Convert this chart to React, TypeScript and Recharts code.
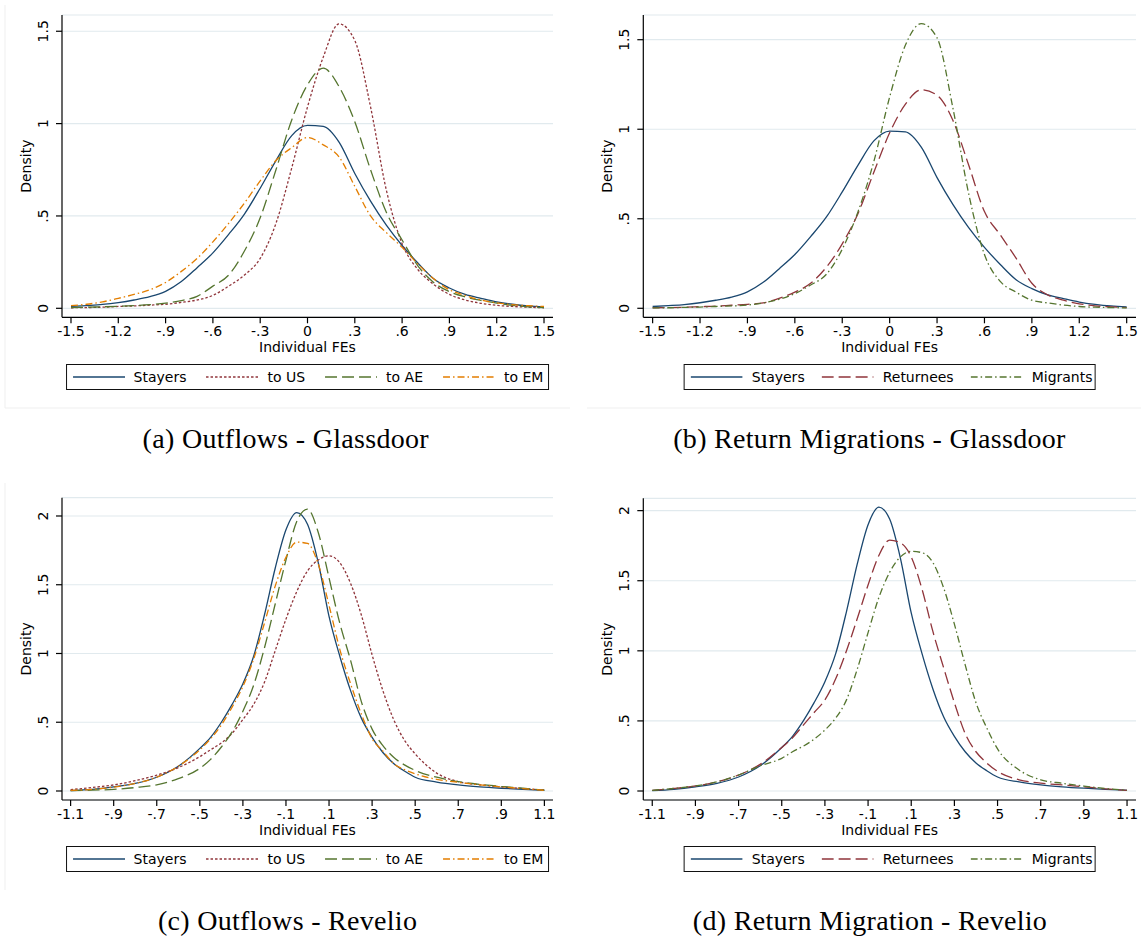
import React from 'react';
import { LineChart, Line, XAxis, YAxis, CartesianGrid } from 'recharts';

// ---------- data ----------
const X_GD = [-1.5,-1.4,-1.3,-1.2,-1.1,-1.0,-0.9,-0.8,-0.7,-0.6,-0.5,-0.4,-0.3,-0.2,-0.1,0,0.1,0.2,0.3,0.4,0.5,0.6,0.7,0.8,0.9,1.0,1.1,1.2,1.3,1.4,1.5];
const STAYERS_GD = [0.01,0.015,0.021,0.031,0.045,0.063,0.092,0.145,0.22,0.30,0.40,0.51,0.65,0.80,0.935,0.99,0.985,0.90,0.73,0.58,0.45,0.34,0.245,0.16,0.11,0.075,0.054,0.035,0.022,0.013,0.008];
const US_GD = [0.003,0.004,0.006,0.01,0.013,0.017,0.022,0.032,0.045,0.07,0.12,0.18,0.27,0.46,0.76,1.09,1.36,1.54,1.45,1.09,0.64,0.35,0.21,0.13,0.075,0.045,0.027,0.016,0.01,0.006,0.003];
const AE_GD = [0.004,0.006,0.008,0.011,0.015,0.02,0.028,0.042,0.065,0.12,0.18,0.31,0.49,0.75,1.02,1.21,1.30,1.20,1.01,0.75,0.52,0.37,0.23,0.14,0.09,0.062,0.043,0.028,0.016,0.008,0.004];
const EM_GD = [0.015,0.022,0.035,0.054,0.075,0.10,0.14,0.20,0.27,0.36,0.46,0.57,0.69,0.80,0.87,0.925,0.885,0.82,0.66,0.50,0.41,0.33,0.24,0.16,0.10,0.07,0.045,0.03,0.02,0.014,0.01];
const RET_GD = [0.003,0.004,0.006,0.009,0.012,0.017,0.022,0.03,0.055,0.09,0.14,0.23,0.36,0.53,0.76,0.98,1.14,1.22,1.19,1.05,0.80,0.54,0.41,0.28,0.14,0.075,0.045,0.025,0.014,0.008,0.004];
const MIG_GD = [0.002,0.003,0.005,0.007,0.01,0.013,0.018,0.03,0.05,0.082,0.13,0.19,0.33,0.54,0.82,1.18,1.47,1.59,1.51,1.12,0.64,0.30,0.15,0.09,0.045,0.03,0.018,0.01,0.006,0.004,0.002];

const X_RV = [-1.1,-1.0,-0.9,-0.8,-0.7,-0.6,-0.5,-0.45,-0.4,-0.35,-0.3,-0.25,-0.2,-0.15,-0.1,-0.05,0,0.05,0.1,0.15,0.2,0.25,0.3,0.35,0.4,0.45,0.5,0.6,0.7,0.8,0.9,1.0,1.1];
const STAYERS_RV = [0.003,0.012,0.03,0.055,0.10,0.18,0.31,0.39,0.50,0.63,0.78,0.98,1.28,1.62,1.90,2.025,1.94,1.66,1.27,0.98,0.73,0.53,0.39,0.28,0.20,0.145,0.10,0.065,0.044,0.03,0.02,0.012,0.005];
const US_RV = [0.01,0.025,0.044,0.075,0.115,0.17,0.25,0.30,0.35,0.42,0.52,0.63,0.79,1.02,1.25,1.45,1.60,1.68,1.71,1.66,1.51,1.28,0.99,0.73,0.52,0.37,0.27,0.13,0.068,0.045,0.03,0.018,0.007];
const AE_RV = [0.003,0.006,0.012,0.025,0.045,0.09,0.165,0.23,0.32,0.43,0.58,0.77,1.04,1.36,1.68,1.96,2.05,1.88,1.55,1.22,0.95,0.65,0.45,0.33,0.245,0.19,0.15,0.10,0.068,0.048,0.034,0.02,0.006];
const EM_RV = [0.004,0.012,0.028,0.055,0.10,0.18,0.30,0.38,0.48,0.61,0.76,0.96,1.22,1.49,1.70,1.81,1.80,1.65,1.35,1.03,0.78,0.56,0.38,0.29,0.20,0.155,0.125,0.085,0.063,0.045,0.03,0.017,0.005];
const RET_RV = [0.005,0.018,0.036,0.065,0.114,0.19,0.31,0.38,0.47,0.56,0.65,0.80,1.00,1.23,1.47,1.68,1.79,1.77,1.67,1.44,1.14,0.88,0.63,0.41,0.28,0.20,0.14,0.08,0.056,0.043,0.03,0.015,0.005];
const MIG_RV = [0.005,0.018,0.036,0.065,0.114,0.18,0.233,0.28,0.32,0.37,0.435,0.52,0.65,0.87,1.13,1.38,1.56,1.67,1.71,1.70,1.63,1.45,1.19,0.90,0.63,0.45,0.30,0.15,0.08,0.055,0.035,0.018,0.005];

const X_TICKS_GD = [-1.5,-1.2,-0.9,-0.6,-0.3,0,0.3,0.6,0.9,1.2,1.5];
const X_TICKS_RV = [-1.1,-0.9,-0.7,-0.5,-0.3,-0.1,0.1,0.3,0.5,0.7,0.9,1.1];
const Y_TICKS_GD = [0,0.5,1,1.5];
const Y_TICKS_RV = [0,0.5,1,1.5,2];

const CAPTIONS = ['(a) Outflows - Glassdoor', '(b) Return Migrations - Glassdoor', '(c) Outflows - Revelio', '(d) Return Migration - Revelio'];

// ---------- styles ----------
const FONT = '"DejaVu Sans", sans-serif';
const SERIF = '"Liberation Serif", "Times New Roman", serif';
const NAVY = '#1a476f';
const MAROON = '#90353b';
const GREEN = '#55752f';
const ORANGE = '#e37e00';
const DOT = '2.5 2';
const LONG = '12 5';
const DASHDOT = '7 3 1.5 3';

type Series = { key: string; name: string; color: string; dash?: string; values: number[] };

const outflowGD: Series[] = [
  { key: 'stayers', name: 'Stayers', color: NAVY, values: STAYERS_GD },
  { key: 'us', name: 'to US', color: MAROON, dash: DOT, values: US_GD },
  { key: 'ae', name: 'to AE', color: GREEN, dash: LONG, values: AE_GD },
  { key: 'em', name: 'to EM', color: ORANGE, dash: DASHDOT, values: EM_GD },
];
const returnGD: Series[] = [
  { key: 'stayers', name: 'Stayers', color: NAVY, values: STAYERS_GD },
  { key: 'ret', name: 'Returnees', color: MAROON, dash: LONG, values: RET_GD },
  { key: 'mig', name: 'Migrants', color: GREEN, dash: DASHDOT, values: MIG_GD },
];
const outflowRV: Series[] = [
  { key: 'stayers', name: 'Stayers', color: NAVY, values: STAYERS_RV },
  { key: 'us', name: 'to US', color: MAROON, dash: DOT, values: US_RV },
  { key: 'ae', name: 'to AE', color: GREEN, dash: LONG, values: AE_RV },
  { key: 'em', name: 'to EM', color: ORANGE, dash: DASHDOT, values: EM_RV },
];
const returnRV: Series[] = [
  { key: 'stayers', name: 'Stayers', color: NAVY, values: STAYERS_RV },
  { key: 'ret', name: 'Returnees', color: MAROON, dash: LONG, values: RET_RV },
  { key: 'mig', name: 'Migrants', color: GREEN, dash: DASHDOT, values: MIG_RV },
];

const buildRows = (xs: number[], series: Series[]) =>
  xs.map((x, i) => {
    const row: Record<string, number> = { x };
    series.forEach((s) => { row[s.key] = s.values[i]; });
    return row;
  });

const fmtTick = (v: number) => {
  const r = Math.round(v * 10) / 10;
  return String(r).replace(/^(-?)0\./, '$1.');
};

const renderYTick = (props: any) => {
  const { x, y, payload } = props;
  return (
    <text x={x} y={y} transform={`rotate(-90 ${x} ${y})`} textAnchor="middle"
      fontSize={14} fontFamily={FONT} fill="#000">{fmtTick(payload.value)}</text>
  );
};

type PanelCfg = {
  left: number; top: number; width: number; height: number;
  plotLeft: number; plotRight: number; plotTop: number; plotBottom: number;
  xDomain: [number, number]; yDomain: [number, number];
  xTicks: number[]; yTicks: number[]; xs: number[]; series: Series[];
  legendPadL: number; legendPadR: number; legendGap: number;
  caption: string; captionX: number; captionY: number;
};

const YW = 50;
const XH = 30;

const panels: PanelCfg[] = [
  { left: 0, top: 0, width: 570, height: 360, plotLeft: 62, plotRight: 553, plotTop: 15, plotBottom: 317.3,
    xDomain: [-1.557, 1.557], yDomain: [-0.0487, 1.588], xTicks: X_TICKS_GD, yTicks: Y_TICKS_GD, xs: X_GD, series: outflowGD,
    legendPadL: 6, legendPadR: 5, legendGap: 20, caption: CAPTIONS[0], captionX: 285.8, captionY: 448.3 },
  { left: 580, top: 0, width: 561, height: 360, plotLeft: 643.3, plotRight: 1136, plotTop: 15, plotBottom: 317.3,
    xDomain: [-1.559, 1.559], yDomain: [-0.0503, 1.638], xTicks: X_TICKS_GD, yTicks: Y_TICKS_GD, xs: X_GD, series: returnGD,
    legendPadL: 6.5, legendPadR: 2.5, legendGap: 17, caption: CAPTIONS[1], captionX: 869.5, captionY: 447.5 },
  { left: 0, top: 470, width: 570, height: 360, plotLeft: 62, plotRight: 553, plotTop: 497.7, plotBottom: 800,
    xDomain: [-1.14, 1.14], yDomain: [-0.0655, 2.133], xTicks: X_TICKS_RV, yTicks: Y_TICKS_RV, xs: X_RV, series: outflowRV,
    legendPadL: 6, legendPadR: 5, legendGap: 20, caption: CAPTIONS[2], captionX: 287.6, captionY: 930 },
  { left: 580, top: 470, width: 561, height: 360, plotLeft: 643.3, plotRight: 1136, plotTop: 498.3, plotBottom: 800,
    xDomain: [-1.1415, 1.1415], yDomain: [-0.0642, 2.088], xTicks: X_TICKS_RV, yTicks: Y_TICKS_RV, xs: X_RV, series: returnRV,
    legendPadL: 6.5, legendPadR: 2.5, legendGap: 17, caption: CAPTIONS[3], captionX: 870, captionY: 930 },
];

function Panel({ p }: { p: PanelCfg }) {
  const data = buildRows(p.xs, p.series);
  const margin = {
    top: p.plotTop - p.top,
    left: p.plotLeft - p.left - YW,
    right: p.left + p.width - p.plotRight,
    bottom: p.top + p.height - p.plotBottom - XH,
  };
  return (
    <div style={{ position: 'absolute', left: p.left, top: p.top }}>
      <LineChart width={p.width} height={p.height} data={data} margin={margin}>
        <CartesianGrid vertical={false} stroke="#e1eaee" strokeWidth={1.2} />
        <XAxis dataKey="x" type="number" domain={p.xDomain} ticks={p.xTicks} allowDataOverflow interval={0}
          tickFormatter={fmtTick} height={XH} tickSize={6} tickMargin={3}
          axisLine={{ stroke: '#000', strokeWidth: 1.2 }} tickLine={{ stroke: '#000', strokeWidth: 1.2 }}
          tick={{ fontSize: 14, fill: '#000', fontFamily: FONT }} />
        <YAxis type="number" domain={p.yDomain} ticks={p.yTicks} allowDataOverflow interval={0}
          width={YW} tickSize={6} tickMargin={8}
          axisLine={{ stroke: '#000', strokeWidth: 1.2 }} tickLine={{ stroke: '#000', strokeWidth: 1.2 }}
          tick={renderYTick} />
        {p.series.map((s) => (
          <Line key={s.key} dataKey={s.key} name={s.name} type="monotone" stroke={s.color} strokeWidth={1.3}
            strokeDasharray={s.dash} dot={false} activeDot={false} isAnimationActive={false} />
        ))}
      </LineChart>
    </div>
  );
}

function LegendBox({ p }: { p: PanelCfg }) {
  return (
    <div style={{
      position: 'absolute', left: (p.plotLeft + p.plotRight) / 2, top: p.plotBottom + 46.3,
      transform: 'translateX(-50%)', height: 26, boxSizing: 'border-box', border: '1.2px solid #111',
      display: 'flex', alignItems: 'center', padding: `0 ${p.legendPadR}px 0 ${p.legendPadL}px`,
      gap: p.legendGap, fontFamily: FONT, fontSize: 14, color: '#000', whiteSpace: 'nowrap', background: '#fff',
    }}>
      {p.series.map((s) => (
        <div key={s.key} style={{ display: 'flex', alignItems: 'center' }}>
          <svg width={52} height={10} style={{ marginRight: 9, display: 'block' }}>
            <line x1={0} y1={5} x2={52} y2={5} stroke={s.color} strokeWidth={1.3} strokeDasharray={s.dash} />
          </svg>
          <span>{s.name}</span>
        </div>
      ))}
    </div>
  );
}

export default function App() {
  return (
    <div style={{ position: 'absolute', left: 0, top: 0, width: 1141, height: 939, background: '#fff', overflow: 'hidden' }}>
      <svg width={1141} height={939} style={{ position: 'absolute', left: 0, top: 0 }}>
        <line x1={5} y1={5} x2={5} y2={408} stroke="#efefef" strokeWidth={1} />
        <line x1={5} y1={408} x2={570} y2={408} stroke="#efefef" strokeWidth={1} />
        <line x1={587} y1={408} x2={1141} y2={408} stroke="#efefef" strokeWidth={1} />
        <line x1={5} y1={483} x2={5} y2={890} stroke="#efefef" strokeWidth={1} />
      </svg>
      {panels.map((p, i) => <Panel key={i} p={p} />)}
      <svg width={1141} height={939} style={{ position: 'absolute', left: 0, top: 0, pointerEvents: 'none' }}>
        {panels.map((p, i) => {
          const cy = (p.plotTop + p.plotBottom) / 2;
          const dx = p.plotLeft - 31;
          return (
            <g key={i}>
              <text x={dx} y={cy} transform={`rotate(-90 ${dx} ${cy})`} textAnchor="middle" fontSize={14}
                fontFamily={FONT} fill="#000">Density</text>
              <text x={(p.plotLeft + p.plotRight) / 2} y={p.plotBottom + 35} textAnchor="middle" fontSize={14}
                fontFamily={FONT} fill="#000">Individual FEs</text>
              <text x={p.captionX} y={p.captionY} textAnchor="middle" fontSize={28} letterSpacing={0.3}
                fontFamily={SERIF} fill="#000">{p.caption}</text>
            </g>
          );
        })}
      </svg>
      {panels.map((p, i) => <LegendBox key={i} p={p} />)}
    </div>
  );
}
